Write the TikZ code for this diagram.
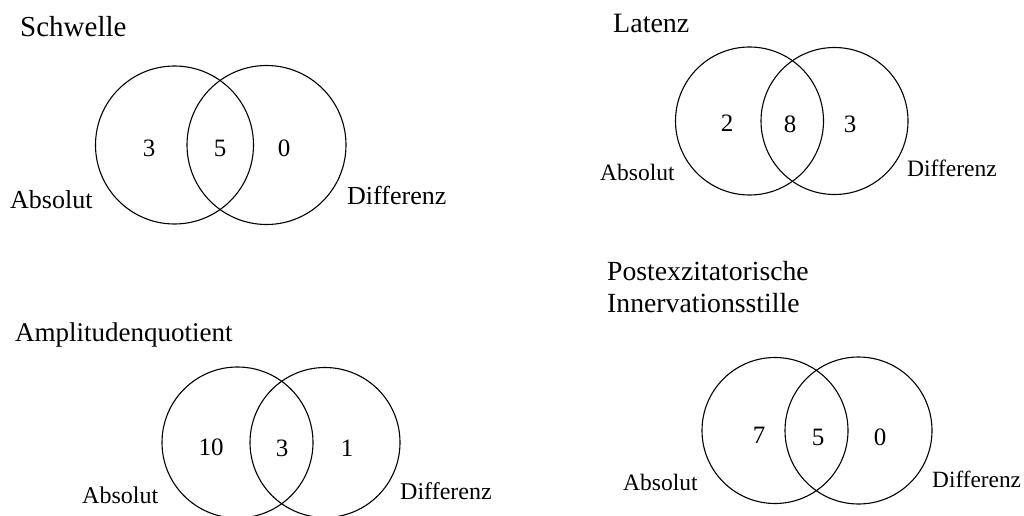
\documentclass[tikz,border=0pt]{standalone}
\usepackage{fontspec}
\setmainfont{Liberation Serif}
\usetikzlibrary{positioning}

\begin{document}
\begin{tikzpicture}[
  x=1pt,y=-1pt,
  venn/.style={draw,circle,line width=1.1pt,inner sep=0pt,minimum size=#1},
  num/.style={font=\fontsize{25}{30}\selectfont,inner sep=0pt},
  lbl/.style={anchor=base west,font=\fontsize{#1}{32}\selectfont,inner sep=0pt,align=left},
  lbl/.default=24,
  title/.style={lbl=28}
]
\useasboundingbox (0,0) rectangle (1024,516);
% Schwelle
\node[title,font=\fontsize{29}{32}\selectfont] (tSchw) at (20,37) {Schwelle};
\node[venn=158pt] (schwA) at (174.5,145) {};
\node[venn=159pt] (schwD) at (266.5,145) {};
\node[num] at (149,148) {3};
\node[num] at (220,148) {5};
\node[num] at (284,148) {0};
\node[lbl=26] (schwAl) at (10,208) {Absolut};
\node[lbl=26] (schwDl) at (347,204) {Differenz};
% Latenz
\node[title] (tLat) at (613,33) {Latenz};
\node[venn=148pt] (latA) at (749.5,121) {};
\node[venn=147pt] (latD) at (834.5,121) {};
\node[num] at (727,123) {2};
\node[num] at (790,124) {8};
\node[num] at (850,124) {3};
\node[lbl=23.5] (latAl) at (600,180) {Absolut};
\node[lbl=23.5] (latDl) at (907,176) {Differenz};
% Amplitudenquotient
\node[title,font=\fontsize{27}{32}\selectfont] (tAmp) at (15,341) {Amplitudenquotient};
\node[venn=151pt] (ampA) at (237.5,442.5) {};
\node[venn=150pt] (ampD) at (325,442.5) {};
\node[num] at (211,447) {10};
\node[num] at (282,448) {3};
\node[num] at (347,448) {1};
\node[lbl] (ampAl) at (82,503) {Absolut};
\node[lbl] (ampDl) at (400,499) {Differenz};
% Postexzitatorische Innervationsstille
\node[title,font=\fontsize{27.7}{32}\selectfont] (tPost) at (607,312) {Postexzitatorische\\Innervationsstille};
\node[venn=146pt] (postA) at (775,430.5) {};
\node[venn=147pt] (postD) at (858.5,430.5) {};
\node[num] at (759,435) {7};
\node[num] at (818,437) {5};
\node[num] at (880,437) {0};
\node[lbl=23.5] (postAl) at (623,490) {Absolut};
\node[lbl=23.3] (postDl) at (932,487) {Differenz};
\end{tikzpicture}
\end{document}
